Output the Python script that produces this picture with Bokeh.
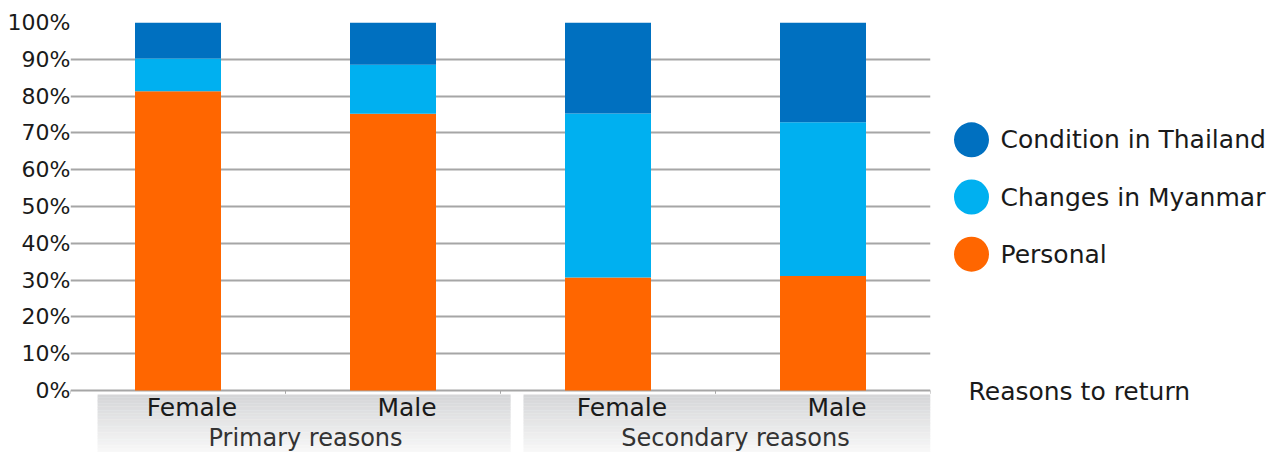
import numpy as np
from bokeh.plotting import figure
from bokeh.models import ColumnDataSource, FactorRange, Range1d, FixedTicker, NumeralTickFormatter
from bokeh.layouts import row
from bokeh.core.properties import value
from bokeh.embed import file_html
from bokeh.resources import INLINE

# ---- data ----
groups = ["Primary reasons", "Secondary reasons"]
sexes = ["Female", "Male"]
series = ["Personal", "Changes in Myanmar", "Condition in Thailand"]
colors = ["#FF6600", "#00B0F0", "#0070C0"]
personal = [0.813, 0.752, 0.307, 0.311]
myanmar = [0.089, 0.133, 0.446, 0.418]
thailand = [0.098, 0.115, 0.247, 0.271]
y_ticks = [0.0, 0.1, 0.2, 0.3, 0.4, 0.5, 0.6, 0.7, 0.8, 0.9, 1.0]
legend_title = "Reasons to return"

FONT = value("DejaVu Sans")
factors = [(g, s) for g in groups for s in sexes]
src = ColumnDataSource(data={"x": factors, series[0]: personal,
                             series[1]: myanmar, series[2]: thailand})

Y_BOTTOM = -62 / 368.0
p = figure(x_range=FactorRange(*factors, range_padding=0, group_padding=0,
                               factor_padding=0, subgroup_padding=0),
           y_range=Range1d(Y_BOTTOM, 1.0), width=940, height=452,
           output_backend="svg", toolbar_location=None, x_axis_location=None,
           min_border_left=70, min_border_right=10, min_border_top=22,
           min_border_bottom=0)
p.outline_line_color = None
p.background_fill_color = "white"

# gray gradient header boxes under axis
box_left = [0.126, 2.107]
box_right = [2.047, 4.0]
top_y, bot_y = -0.011, Y_BOTTOM
n = 40
c0 = np.array([0xD5, 0xD6, 0xD8])
c1 = np.array([0xF8, 0xF8, 0xF8])
for i in range(n):
    t = i / (n - 1)
    c = (c0 * (1 - t) + c1 * t).astype(int)
    col = "#%02x%02x%02x" % tuple(c)
    yt = top_y + (bot_y - top_y) * i / n
    yb = top_y + (bot_y - top_y) * (i + 1) / n - 0.001
    p.quad(left=box_left, right=box_right, top=yt, bottom=yb, color=col, line_color=None)

# bars
p.vbar_stack(series, x="x", width=0.4, color=colors, source=src, line_color=None)

# boundary ticks
bounds = list(range(len(factors) + 1))
p.segment(x0=bounds, x1=bounds, y0=0, y1=-0.009, line_color="#a6a6a6", line_width=1)

# y axis
p.yaxis.ticker = FixedTicker(ticks=y_ticks)
p.yaxis.formatter = NumeralTickFormatter(format="0%")
p.yaxis.axis_line_color = None
p.yaxis.major_tick_line_color = None
p.yaxis.minor_tick_line_color = None
p.yaxis.major_tick_out = 0
p.yaxis.major_tick_in = 0
p.yaxis.major_label_standoff = 0
p.yaxis.major_label_text_font = "DejaVu Sans"
p.yaxis.major_label_text_font_size = "22px"
p.yaxis.major_label_text_color = "#1a1a1a"
p.ygrid.ticker = FixedTicker(ticks=y_ticks)
p.ygrid.grid_line_color = "#a6a6a6"
p.ygrid.grid_line_width = 2
p.xgrid.grid_line_color = None

# category labels
p.text(x=factors, y=[-0.045] * len(factors), text=[f[1] for f in factors],
       x_offset=14, text_align="center", text_baseline="middle",
       text_font=FONT, text_font_size="25px", text_color="#1a1a1a")
p.text(x=groups, y=[-0.130] * len(groups), text=groups, x_offset=20,
       text_align="center", text_baseline="middle",
       text_font=FONT, text_font_size="24px", text_color="#333333")

# legend panel (frame aligned with the main plot's frame: top 22, bottom 452)
lg = figure(width=327, height=452, x_range=Range1d(0, 327), y_range=Range1d(452, 22),
            output_backend="svg", toolbar_location=None, x_axis_location=None,
            y_axis_location=None, min_border_left=0, min_border_right=0,
            min_border_top=22, min_border_bottom=0)
lg.outline_line_color = None
lg.grid.visible = False
leg_names = series[::-1]
leg_cols = colors[::-1]
leg_y = [139.3 + 57.2 * i for i in range(len(leg_names))]
lg.scatter(x=[31] * len(leg_names), y=leg_y, size=35, color=leg_cols, line_color=None)
lg.text(x=[60] * len(leg_names), y=leg_y, text=leg_names, text_baseline="middle",
        text_font=FONT, text_font_size="25px", text_color="#1a1a1a")
lg.text(x=[28], y=[391], text=[legend_title], text_baseline="middle",
        text_font=FONT, text_font_size="25px", text_color="#1a1a1a")

layout = row(p, lg)
open("out.html", "w").write(file_html(layout, INLINE))
